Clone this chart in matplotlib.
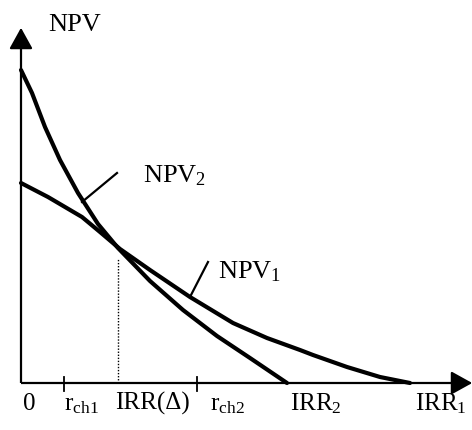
import matplotlib
matplotlib.use("Agg")
import matplotlib.pyplot as plt

plt.rcParams['font.family'] = ['Liberation Serif', 'DejaVu Serif']
plt.rcParams['mathtext.fontset'] = 'custom'
plt.rcParams['mathtext.rm'] = 'Liberation Serif'
plt.rcParams['mathtext.it'] = 'Liberation Serif:italic'
plt.rcParams['mathtext.bf'] = 'Liberation Serif:bold'

# ---- data (discount rate, NPV) ----
npv2_rate = [0.0, 1.1, 2.4, 3.9, 5.7, 7.7, 9.7, 12.9, 16.2, 19.6, 22.9, 26.6]
npv2_vals = [31.3, 29.0, 25.6, 22.3, 19.0, 15.9, 13.5, 10.2, 7.3, 4.7, 2.5, 0.0]
npv1_rate = [0.0, 2.7, 6.1, 7.9, 9.9, 12.9, 16.9, 21.2, 24.6, 27.9, 29.2, 32.6, 35.9, 38.9]
npv1_vals = [20.0, 18.6, 16.6, 15.1, 13.4, 11.3, 8.6, 6.0, 4.5, 3.3, 2.8, 1.6, 0.6, 0.0]

irr_delta = 9.7
irr_delta_npv = 12.4
tick_rates = [4.3, 17.6]
x_labels = ['0', r'$\mathrm{r}_{\mathrm{ch1}}$', 'IRR(Δ)', r'$\mathrm{r}_{\mathrm{ch2}}$',
            r'$\mathrm{IRR}_{2}$', r'$\mathrm{IRR}_{1}$']
x_label_pos = [0.2, 4.3, 9.4, 18.9, 26.9, 39.4]

fig = plt.figure(figsize=(4.72, 4.30), dpi=100)
ax = fig.add_axes([0, 0, 1, 1])
ax.set_xlim(-2.1, 45.1)
ax.set_ylim(-4.7, 38.3)
ax.axis('off')

arrow_style = '-|>,head_width=0.36,head_length=0.65'
# y axis with arrow
ax.plot([0, 0], [0, 34.5], color='k', lw=1.6, solid_capstyle='butt')
ax.annotate('', xy=(0, 35.8), xytext=(0, 33.8),
            arrowprops=dict(arrowstyle=arrow_style, color='k', lw=1.6, mutation_scale=20))
# x axis with arrow
ax.plot([0, 44.0], [0, 0], color='k', lw=1.6, solid_capstyle='butt')
ax.annotate('', xy=(45.4, 0), xytext=(43.5, 0),
            arrowprops=dict(arrowstyle=arrow_style, color='k', lw=1.6, mutation_scale=20),
            annotation_clip=False)

# curves
ax.plot(npv2_rate, npv2_vals, color='k', lw=3.0, solid_joinstyle='round', solid_capstyle='round')
ax.plot(npv1_rate, npv1_vals, color='k', lw=3.0, solid_joinstyle='round', solid_capstyle='round')

# dotted line at IRR(Δ)
ax.plot([irr_delta, irr_delta], [0, irr_delta_npv], color='k', lw=1.0, linestyle=(0, (1, 1.2)))

# ticks
for t in tick_rates:
    ax.plot([t, t], [0.6, -0.8], color='k', lw=1.3)

# leader lines
ax.plot([6.1, 9.6], [18.1, 21.0], color='k', lw=1.6)
ax.plot([16.9, 18.7], [8.6, 12.1], color='k', lw=1.6)

# labels
ax.text(2.7, 35.2, 'NPV', fontsize=19, va='baseline', ha='left')
ax.text(12.2, 20.1, r'$\mathrm{NPV}_{2}$', fontsize=19, va='baseline', ha='left')
ax.text(19.7, 10.5, r'$\mathrm{NPV}_{1}$', fontsize=19, va='baseline', ha='left')

for lab, pos in zip(x_labels, x_label_pos):
    ax.text(pos, -2.7, lab, fontsize=18, va='baseline', ha='left', clip_on=False)

fig.savefig('out.png', dpi=100)
